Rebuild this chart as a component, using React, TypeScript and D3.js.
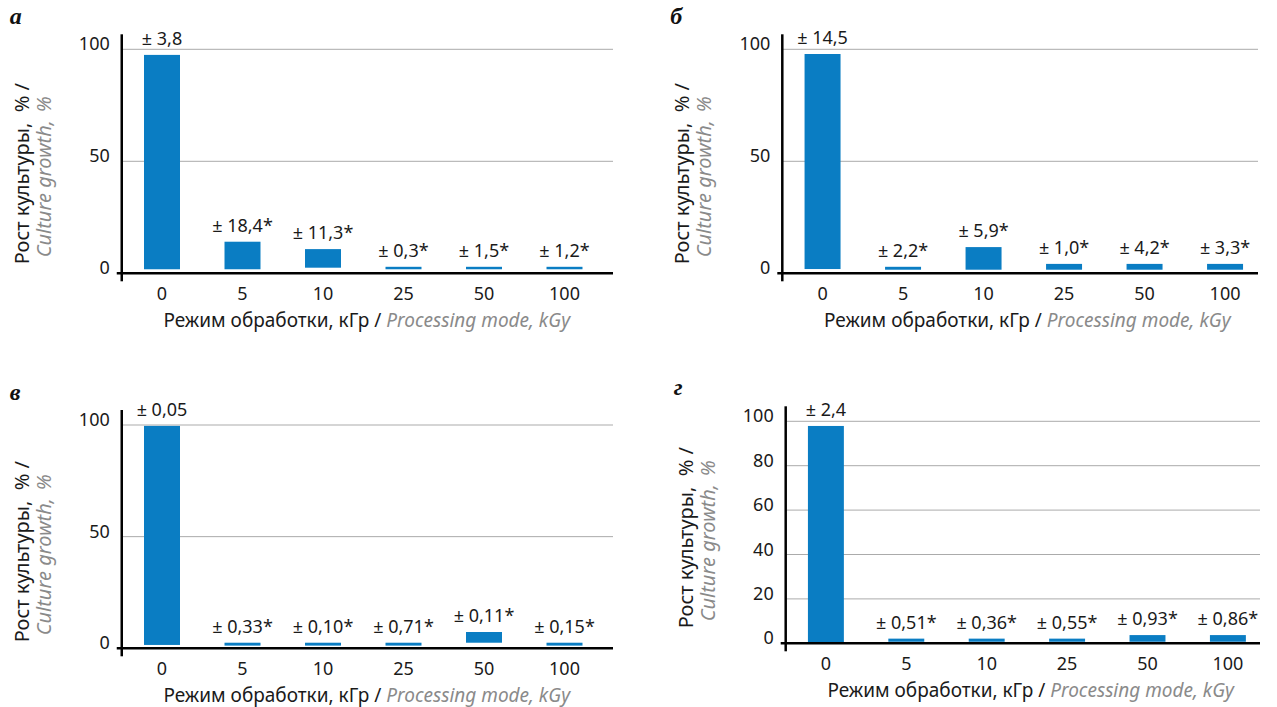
import React from "react";
import * as d3 from "d3";

const doses = ["0", "5", "10", "25", "50", "100"];

// bar top / bar bottom (%); bars float slightly above zero
const topA = [97.5, 14.1, 10.8, 2.9, 2.9, 2.9];
const baseA = [1.8, 1.8, 2.5, 1.8, 1.8, 1.8];
const errA = ["± 3,8", "± 18,4*", "± 11,3*", "± 0,3*", "± 1,5*", "± 1,2*"];

const topB = [97.9, 2.9, 11.7, 4.2, 4.2, 4.2];
const baseB = [1.9, 1.6, 1.6, 1.6, 1.6, 1.6];
const errB = ["± 14,5", "± 2,2*", "± 5,9*", "± 1,0*", "± 4,2*", "± 3,3*"];

const topC = [99.6, 2.5, 2.5, 2.5, 7.3, 2.5];
const baseC = [1.5, 1.2, 1.2, 1.2, 2.5, 1.2];
const errC = ["± 0,05", "± 0,33*", "± 0,10*", "± 0,71*", "± 0,11*", "± 0,15*"];

const topD = [97.9, 2.1, 2.1, 2.1, 3.7, 3.7];
const baseD = [0.5, 0.7, 0.7, 0.7, 0.7, 0.7];
const errD = ["± 2,4", "± 0,51*", "± 0,36*", "± 0,55*", "± 0,93*", "± 0,86*"];

const ticksWide = [0, 50, 100];
const ticksFine = [0, 20, 40, 60, 80, 100];

const FONT = "'Noto Sans', sans-serif";
const BLUE = "#0a7dc3";
const GREY = "#8a8a8a";

type PanelProps = {
  letter: string;
  left: number;
  top100: number;
  zeroY: number;
  gridEnd: number;
  step: number;
  labelLift: number;
  tops: number[];
  bases: number[];
  errs: string[];
  ticks: number[];
};

const Panel: React.FC<PanelProps> = ({ letter, left, top100, zeroY, gridEnd, step, labelLift, tops, bases, errs, ticks }) => {
  const y = d3.scaleLinear().domain([0, 100]).range([zeroY, top100]);
  const x = d3
    .scaleBand()
    .domain(doses)
    .range([left, left + step * doses.length])
    .paddingInner(0.553)
    .paddingOuter(0.2765);
  const bw = x.bandwidth();
  const labelStart = zeroY - labelLift;

  return (
    <g>
      <text x={left - 112} y={letter === "в" || letter === "г" ? zeroY - 248 : zeroY - 249.5}
        fontFamily="'Liberation Serif', serif" fontWeight="bold" fontStyle="italic" fontSize={24} fill="#111">
        {letter}
      </text>

      {/* grid */}
      {ticks.filter((t) => t > 0).map((t) => (
        <line key={t} x1={left} x2={gridEnd} y1={y(t)} y2={y(t)} stroke="#ababab" strokeWidth={1} />
      ))}

      {/* bars */}
      {doses.map((d, i) => (
        <rect key={d} x={x(d)!} width={bw} y={y(tops[i])} height={y(bases[i]) - y(tops[i])} fill={BLUE} />
      ))}

      {/* value labels */}
      {doses.map((d, i) => (
        <text key={d} x={x(d)! + bw / 2} y={y(tops[i]) - 10} textAnchor="middle"
          fontFamily={FONT} fontSize={18} fill="#1a1a1a">
          {errs[i]}
        </text>
      ))}

      {/* axes */}
      <line x1={left} x2={left} y1={top100 - 15} y2={zeroY + 8} stroke="#000" strokeWidth={2.5} />
      <line x1={left - 5} x2={gridEnd} y1={zeroY} y2={zeroY} stroke="#000" strokeWidth={2.5} />

      {ticks.map((t) => (
        <text key={t} x={left - 12} y={y(t) + 1} textAnchor="end" fontFamily={FONT} fontSize={18} fill="#1a1a1a">
          {t}
        </text>
      ))}
      {doses.map((d) => (
        <text key={d} x={x(d)! + bw / 2} y={zeroY + 27} textAnchor="middle" fontFamily={FONT} fontSize={18} fill="#1a1a1a">
          {d}
        </text>
      ))}

      {/* x title */}
      <text x={left + 245} y={zeroY + 54} textAnchor="middle" fontFamily={FONT} fontSize={19} fill="#1a1a1a">
        Режим обработки, кГр /{" "}
        <tspan fill={GREY} fontStyle="italic">Processing mode, kGy</tspan>
      </text>

      {/* y title */}
      <g transform={`translate(${left - 93},${labelStart}) rotate(-90)`}>
        <text x={0} y={0} fontFamily={FONT} fontSize={20} fill="#1a1a1a">Рост культуры,</text>
        <text x={152} y={0} fontFamily={FONT} fontSize={20} fill="#1a1a1a">% /</text>
      </g>
      <g transform={`translate(${left - 71},${labelStart}) rotate(-90)`}>
        <text x={7} y={0} fontFamily={FONT} fontSize={20} fontStyle="italic" fill={GREY}>Culture growth,</text>
        <text x={152} y={0} fontFamily={FONT} fontSize={20} fontStyle="italic" fill={GREY}>%</text>
      </g>
    </g>
  );
};

export default function App() {
  return (
    <svg width={1277} height={707} style={{ position: "absolute", left: 0, top: 0, background: "#fff" }}>
      <Panel letter="а" left={121.75} top100={49.3} zeroY={273.3} gridEnd={613} step={80.5} labelLift={9}
        tops={topA} bases={baseA} errs={errA} ticks={ticksWide} />
      <Panel letter="б" left={782.3} top100={49.3} zeroY={273.3} gridEnd={1258} step={80.5} labelLift={9}
        tops={topB} bases={baseB} errs={errB} ticks={ticksWide} />
      <Panel letter="в" left={121.75} top100={425} zeroY={648.3} gridEnd={613} step={80.5} labelLift={6}
        tops={topC} bases={baseC} errs={errC} ticks={ticksWide} />
      <Panel letter="г" left={785.7} top100={421.3} zeroY={643.3} gridEnd={1260} step={80.4} labelLift={15}
        tops={topD} bases={baseD} errs={errD} ticks={ticksFine} />
    </svg>
  );
}
